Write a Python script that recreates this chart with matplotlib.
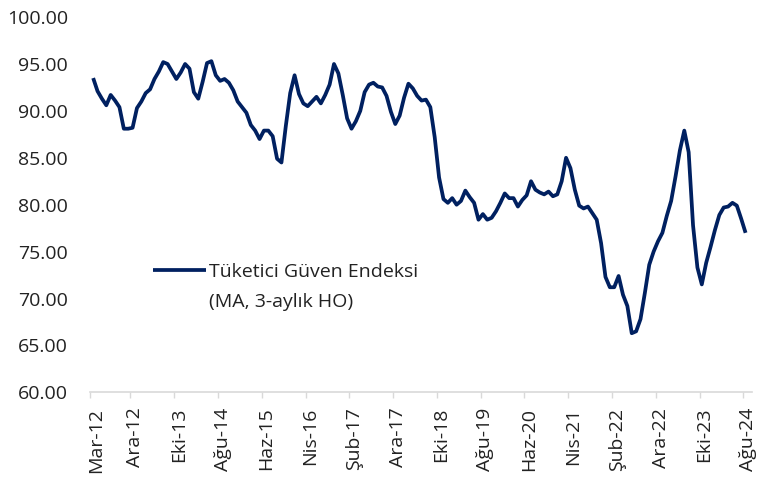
import matplotlib
matplotlib.use("Agg")
import matplotlib.pyplot as plt
from matplotlib.lines import Line2D
from matplotlib.ticker import FixedLocator, FuncFormatter
from matplotlib.transforms import ScaledTranslation

# ---- data -------------------------------------------------------------
tick_labels = ["Mar-12", "Ara-12", "Eki-13", "Ağu-14", "Haz-15", "Nis-16",
               "Şub-17", "Ara-17", "Eki-18", "Ağu-19", "Haz-20", "Nis-21",
               "Şub-22", "Ara-22", "Eki-23", "Ağu-24"]
tick_index = [0, 9, 19, 29, 39, 49, 59, 69, 79, 89, 99, 109, 119, 129, 139, 149]

series_name = "Tüketici Güven Endeksi"
series_note = "(MA, 3-aylık HO)"

confidence = [
    93.5, 92.1, 91.3, 90.6, 91.7, 91.1, 90.4, 88.1, 88.1, 88.2,
    90.3, 91.0, 91.9, 92.3, 93.4, 94.2, 95.2, 95.0, 94.2, 93.4,
    94.1, 95.0, 94.5, 92.0, 91.3, 93.1, 95.1, 95.3, 93.8, 93.2,
    93.4, 93.0, 92.2, 91.0, 90.4, 89.8, 88.5, 87.9, 87.0, 87.9,
    87.9, 87.3, 84.9, 84.5, 88.4, 91.9, 93.8, 91.8, 90.8, 90.5,
    91.0, 91.5, 90.8, 91.7, 92.8, 95.0, 94.0, 91.7, 89.2, 88.1,
    88.9, 90.0, 92.0, 92.8, 93.0, 92.6, 92.5, 91.6, 89.9, 88.6,
    89.5, 91.4, 92.9, 92.4, 91.6, 91.1, 91.2, 90.4, 87.2, 82.9,
    80.6, 80.2, 80.7, 80.0, 80.4, 81.5, 80.8, 80.2, 78.4, 79.0,
    78.4, 78.6, 79.3, 80.2, 81.2, 80.7, 80.7, 79.8, 80.5, 81.0,
    82.5, 81.6, 81.3, 81.1, 81.4, 80.9, 81.1, 82.5, 85.0, 83.9,
    81.6, 79.9, 79.6, 79.8, 79.1, 78.4, 75.9, 72.3, 71.2, 71.2,
    72.4, 70.4, 69.2, 66.3, 66.5, 67.8, 70.6, 73.6, 75.0, 76.1,
    77.0, 78.8, 80.4, 83.0, 85.8, 87.9, 85.6, 77.8, 73.3, 71.5,
    73.8, 75.5, 77.3, 78.9, 79.7, 79.8, 80.2, 79.9, 78.5, 77.0,
]

# ---- style ------------------------------------------------------------
plt.rcParams["font.family"] = ["Open Sans", "DejaVu Sans"]
LINE_COLOR = "#002060"
TEXT_COLOR = "#222222"
AXIS_COLOR = "#d9d9d9"
FS = 14

fig = plt.figure(figsize=(7.59, 4.80), dpi=100)
ax = fig.add_axes([0.119, 0.1827, 0.9904 - 0.119, 0.9644 - 0.1827])

x = list(range(len(confidence)))
line, = ax.plot(x, confidence, color=LINE_COLOR, lw=2.7,
                solid_joinstyle="round", solid_capstyle="butt")

ax.set_xlim(-0.65, 150.4)
ax.set_ylim(60, 100)

# y axis
ax.set_yticks([60, 65, 70, 75, 80, 85, 90, 95, 100])
ax.yaxis.set_major_formatter(FuncFormatter(lambda v, p: f"{v:.2f}"))
ax.tick_params(axis="y", length=0, pad=16, labelsize=FS, labelcolor=TEXT_COLOR)

# x axis: labels on categories, tick marks between categories
ax.xaxis.set_major_locator(FixedLocator(tick_index))
ax.set_xticklabels(tick_labels, rotation=90, fontsize=FS, color=TEXT_COLOR)
ax.tick_params(axis="x", which="major", length=0, pad=11)
shift = ScaledTranslation(2.5 / 100, 0, fig.dpi_scale_trans)
for lab in ax.get_xticklabels():
    lab.set_transform(lab.get_transform() + shift)
minor_pos = [-0.65] + [i - 0.5 for i in tick_index[1:]]
ax.xaxis.set_minor_locator(FixedLocator(minor_pos))
ax.tick_params(axis="x", which="minor", length=4, width=1.0, color=AXIS_COLOR)

for s in ["top", "right", "left"]:
    ax.spines[s].set_visible(False)
ax.spines["bottom"].set_color(AXIS_COLOR)
ax.spines["bottom"].set_linewidth(1.2)

# legend: handle on first line, note on second line
blank = Line2D([], [], color="none")
leg = ax.legend([line, blank], [series_name, series_note],
                loc="upper left", bbox_to_anchor=(153 / 759, 1 - 263 / 480),
                bbox_transform=fig.transFigure, frameon=False, fontsize=FS,
                handlelength=2.7, handletextpad=0.2, labelspacing=0.6,
                borderpad=0, borderaxespad=0)
for t in leg.get_texts():
    t.set_color(TEXT_COLOR)

fig.savefig("out.png", dpi=100)
